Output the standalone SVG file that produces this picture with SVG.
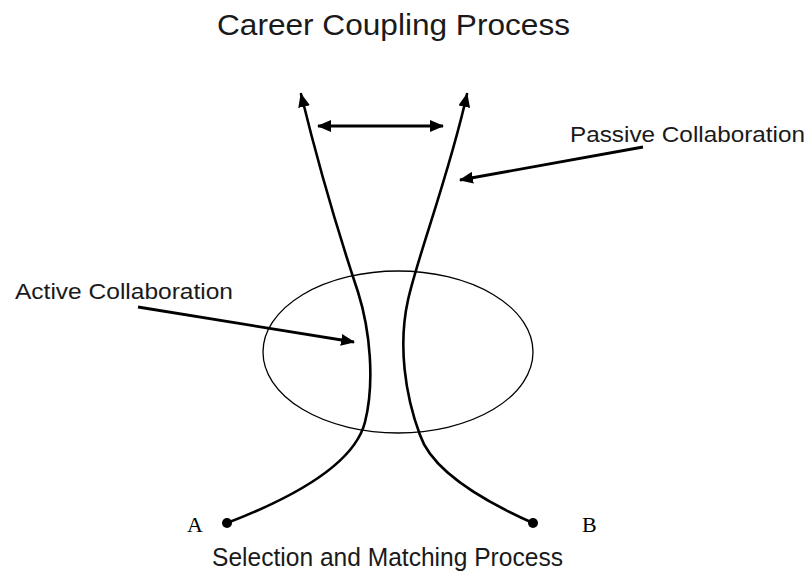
<svg xmlns="http://www.w3.org/2000/svg" width="811" height="571" viewBox="0 0 811 571">
<defs>
<marker id="ah" markerUnits="userSpaceOnUse" markerWidth="14" markerHeight="12" refX="13" refY="6" orient="auto-start-reverse">
<path d="M0,0 L14,6 L0,12 z" fill="#000"/>
</marker>
<style>
.lbl{font-family:"Liberation Sans",Arial,sans-serif;fill:#1a1a1a}
.ser{font-family:"Liberation Serif","Times New Roman",serif;fill:#000;font-size:22px}
.curve{fill:none;stroke:#000;stroke-width:2.6;stroke-linecap:round}
.arr{fill:none;stroke:#000;stroke-width:2.8}
</style>
</defs>
<rect width="811" height="571" fill="#fff"/>
<g id="title"><text class="lbl" x="217" y="35" font-size="29" textLength="353" lengthAdjust="spacingAndGlyphs">Career Coupling Process</text></g>
<g id="ellipse"><ellipse cx="398" cy="352" rx="135" ry="81" fill="none" stroke="#000" stroke-width="1.3"/></g>
<g id="nodeA"><circle cx="227" cy="523" r="5" fill="#000"/><text class="ser" x="187" y="532">A</text></g>
<g id="nodeB"><circle cx="533" cy="523" r="5" fill="#000"/><text class="ser" x="582" y="532">B</text></g>
<g id="label-passive"><text class="lbl" x="570" y="142" font-size="22.5" textLength="235" lengthAdjust="spacingAndGlyphs">Passive Collaboration</text></g>
<g id="label-active"><text class="lbl" x="15" y="299" font-size="22.5" textLength="218" lengthAdjust="spacingAndGlyphs">Active Collaboration</text></g>
<g id="label-selection"><text class="lbl" x="212" y="566" font-size="25" textLength="351" lengthAdjust="spacingAndGlyphs">Selection and Matching Process</text></g>
<g id="connectors">
<path class="curve" d="M227,523 C300,495 355,462 365,422 C375,382 370,330 358,292 C348,262 322,180 301,94" marker-end="url(#ah)"/>
<path class="curve" d="M533,523 C470,495 430,465 420,435 C405,395 398,345 408,300 C418,255 450,172 467,94" marker-end="url(#ah)"/>
<line class="arr" x1="318" y1="126" x2="443" y2="126" marker-start="url(#ah)" marker-end="url(#ah)"/>
<line class="arr" x1="643" y1="147" x2="460" y2="180" marker-end="url(#ah)"/>
<line class="arr" x1="138" y1="307" x2="354" y2="342" marker-end="url(#ah)"/>
</g>
</svg>
